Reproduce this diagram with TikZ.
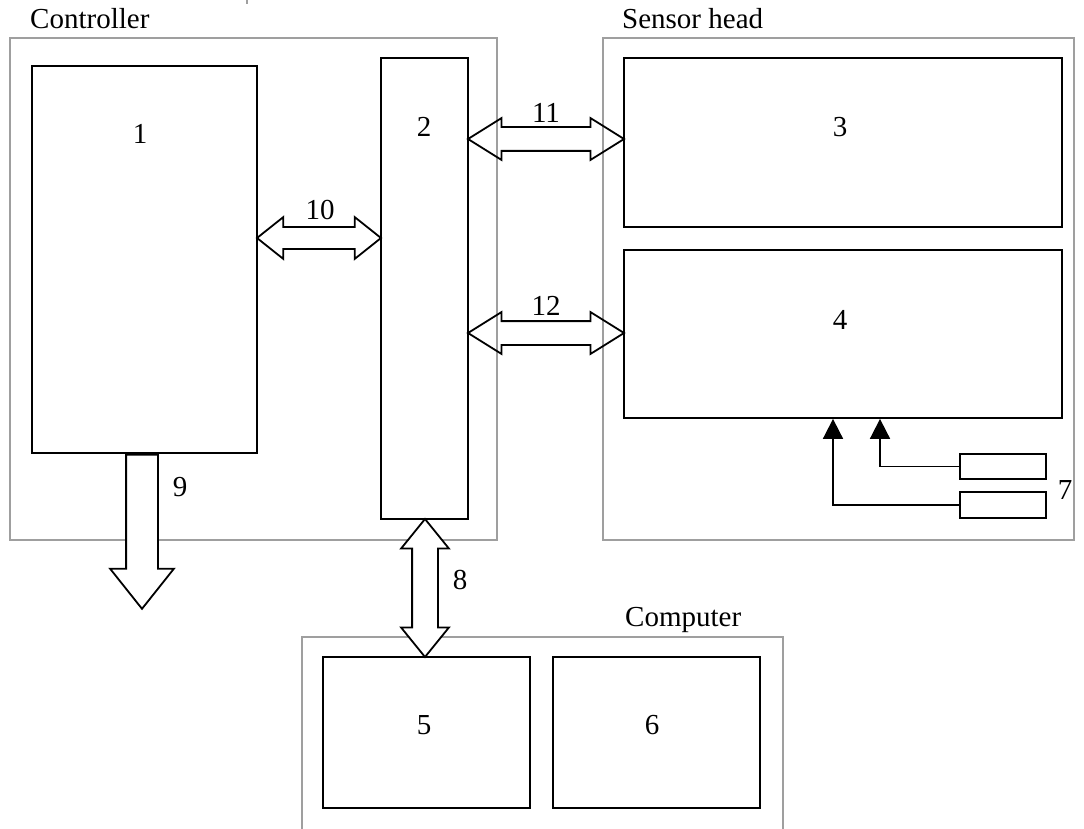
\documentclass[tikz,border=0pt]{standalone}
\usepackage{fontspec}
\setmainfont{Liberation Serif}
\usetikzlibrary{arrows.meta, positioning, shapes.arrows, fit, calc}

\begin{document}
\begin{tikzpicture}[
  x=1pt, y=-1pt,
  font=\fontsize{29}{33}\selectfont,
  unit/.style={draw, line width=1.8pt, inner sep=0pt},
  group/.style={draw=gray!75, line width=1.3pt, inner sep=0pt},
  num/.style={inner sep=0pt},
  title/.style={anchor=base west, inner sep=0pt},
  bus/.style={double arrow, draw, line width=1.8pt, inner xsep=0pt,
              minimum height=#1},
  out/.style={single arrow, draw, fill=white, line width=1.8pt, inner xsep=0pt,
              minimum height=#1},
  sig/.style={-{Triangle[length=20pt, width=20pt]}, line width=1.8pt}
]
  \clip (0,0) rectangle (1084,829);

  % housings
  \node[group, fit={(10,38) (497,540)}]   (ctrl) {};
  \node[group, fit={(603,38) (1074,540)}] (head) {};
  \node[group, fit={(302,637) (783,850)}] (pc)   {};
  \node[title] (tctrl) at (30,29)  {Controller};
  \node[title] (thead) at (622,29) {Sensor head};
  \node[title] (tpc)   at (625,626) {Computer};
  \draw[gray!75, line width=1.3pt] (247,0) -- (247,4);

  % units
  \node[unit, fit={(32,66) (257,453)}]    (b1) {};
  \node[unit, fit={(381,58) (468,519)}]   (b2) {};
  \node[unit, fit={(624,58) (1062,227)}]  (b3) {};
  \node[unit, fit={(624,250) (1062,418)}] (b4) {};
  \node[unit, fit={(323,657) (530,808)}]  (b5) {};
  \node[unit, fit={(553,657) (760,808)}]  (b6) {};
  \node[unit, fit={(960,454) (1046,479)}] (s7a) {};
  \node[unit, fit={(960,492) (1046,518)}] (s7b) {};

  \node[num] at (140,134) {1};
  \node[num] at (424,127) {2};
  \node[num] at (840,127) {3};
  \node[num] at (840,320) {4};
  \node[num] at (424,725) {5};
  \node[num] at (652,725) {6};
  \node[num] at (1065,490) {7};

  % buses
  \node[bus=124pt, inner ysep=10pt, double arrow head extend=10pt,
        double arrow tip angle=77] (a10)
    at ($(b1.east |- 0,238)!.5!(b2.west |- 0,238)$) {};
  \node[bus=156pt, inner ysep=11pt, double arrow head extend=9pt,
        double arrow tip angle=64] (a11)
    at ($(b2.east |- 0,139)!.5!(b3.west |- 0,139)$) {};
  \node[bus=156pt, inner ysep=11pt, double arrow head extend=9pt,
        double arrow tip angle=64] (a12)
    at ($(b2.east |- 0,333)!.5!(b4.west |- 0,333)$) {};
  \node[bus=138pt, fill=white, rotate=90, inner ysep=12pt,
        double arrow head extend=11pt, double arrow tip angle=78] (a8)
    at ($(b2.south -| 425,0)!.5!(b5.north -| 425,0)$) {};
  \node[out=154pt, rotate=-90, anchor=tail, inner ysep=15pt,
        single arrow head extend=16pt, single arrow tip angle=77] (a9)
    at (b1.south -| 142,0) {};

  \node[num] at (320,210) {10};
  \node[num] at (546,113) {11};
  \node[num] at (546,306) {12};
  \node[num] at (460,580) {8};
  \node[num] at (180,487) {9};

  % sensors to unit 4
  \draw[sig] (s7a.west) -| ([xshift=37pt]b4.south);
  \draw[sig] (s7b.west) -| ([xshift=-10pt]b4.south);
\end{tikzpicture}
\end{document}
